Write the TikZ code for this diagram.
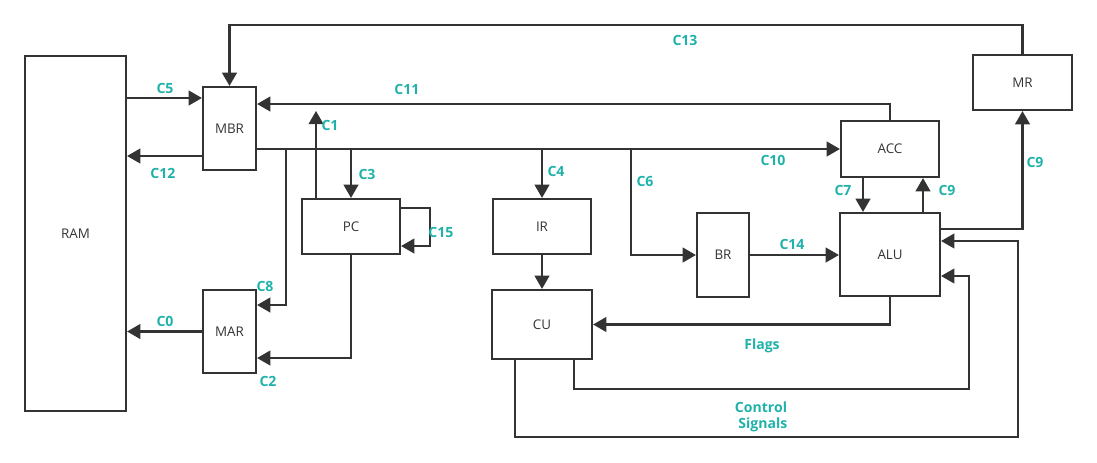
\documentclass[tikz,border=0pt]{standalone}
\usepackage{fontspec}
\setmainfont{Open Sans}
\usepackage{tikz}
\usetikzlibrary{arrows,positioning}
\definecolor{lblcol}{RGB}{32,178,170}
\definecolor{linecol}{RGB}{51,51,51}

\begin{document}
\begin{tikzpicture}[x=0.025cm,y=-0.025cm,
    reg/.style={draw=linecol,line width=1.6pt,inner sep=0pt,text=linecol,font=\fontsize{9.5}{11}\selectfont},
    tall/.style={reg,minimum width=1.325cm,minimum height=2.075cm},
    wide/.style={reg,minimum width=2.45cm,minimum height=1.375cm},
    big/.style={reg,minimum width=2.5cm,minimum height=1.75cm},
    lbl/.style={text=lblcol,font=\bfseries\fontsize{10}{11.5}\selectfont,align=center},
    wire/.style={draw=linecol,line width=1.6pt},
    arr/.style={wire,-triangle 60}]
\useasboundingbox (0,0) rectangle (1097,462);
%the registers
\node[reg,minimum width=2.525cm,minimum height=8.875cm] (ram) at (75.5,233.5) {RAM};
\node[tall] (mbr) at (229.5,128.5) {MBR};
\node[tall] (mar) at (229.5,331.5) {MAR};
\node[tall,minimum width=1.3cm,minimum height=2.1cm] (br) at (723,255) {BR};
\node[wide] (pc) at (351,226.5) {PC};
\node[wide] (ir) at (542,226.5) {IR};
\node[wide,minimum height=1.4cm] (acc) at (890,149) {ACC};
\node[wide,minimum width=2.475cm] (mr) at (1022.5,82.5) {MR};
\node[big,minimum height=1.725cm] (cu) at (542,324.5) {CU};
\node[big,minimum height=2.075cm] (alu) at (890,254.5) {ALU};
\coordinate (c1end) at (316,111);
%the connections
\draw[arr] (mr.north) -- (mr.north |- 0,25) -| (mbr.north);
\draw[arr] (ram.east |- 0,98) -- (mbr.west |- 0,98);
\draw[arr] (mbr.west |- 0,156) -- (ram.east |- 0,156);
\draw[arr] (acc.north) -- (acc.north |- 0,104) -- (mbr.east |- 0,104);
\draw[arr] (pc.north -| c1end) -- (c1end);
\draw[arr] (mbr.east |- acc.west) -- (acc.west);
\draw[arr] (pc.north |- acc.west) -- (pc.north);
\draw[arr] (286,149) |- (mar.east |- 0,305);
\draw[arr] (pc.south) |- (mar.east |- 0,358);
\draw[arr] (mar.west) -- (mar.west -| ram.east);
\draw[arr] (pc.east |- 0,208) -- (430,208) |- (pc.east |- 0,246);
\draw[arr] (ir.north |- acc.west) -- (ir.north);
\draw[arr] (ir.south) -- (cu.north);
\draw[arr] (631,149) |- (br.west);
\draw[arr] (br.east) -- (alu.west |- br.east);
\draw[arr] (acc.south -| 863,0) -- (alu.north -| 863,0);
\draw[arr] (alu.north -| 923,0) -- (acc.south -| 923,0);
\draw[arr] (alu.east |- 0,229) -| (mr.south);
\draw[arr] (alu.south) |- (cu.east);
\draw[arr] (cu.south -| 574,0) |- (969,389) |- (alu.east |- 0,276);
\draw[arr] (cu.south -| 515,0) |- (1018,437) |- (alu.east |- 0,241);
%the labels
\node[lbl] (l13) at (685,40) {C13};
\node[lbl] (l5) at (165,88) {C5};
\node[lbl] (l12) at (163,173) {C12};
\node[lbl] (l11) at (407,89) {C11};
\node[lbl] (l1) at (330,125) {C1};
\node[lbl] (l3) at (367,174) {C3};
\node[lbl] (l8) at (265,286) {C8};
\node[lbl] (l2) at (268,381) {C2};
\node[lbl] (l0) at (165,321) {C0};
\node[lbl] (l15) at (441,232) {C15};
\node[lbl] (l4) at (556,171) {C4};
\node[lbl] (l6) at (645,181) {C6};
\node[lbl] (l10) at (773,160) {C10};
\node[lbl] (l14) at (792,244) {C14};
\node[lbl] (l7) at (843,190) {C7};
\node[lbl] (l9a) at (947,190) {C9};
\node[lbl] (l9b) at (1035,162) {C9};
\node[lbl] (lflags) at (762,346) {Flags};
\node[lbl] (lctrl) at (761,417) {Control\\\ Signals};
\end{tikzpicture}
\end{document}
